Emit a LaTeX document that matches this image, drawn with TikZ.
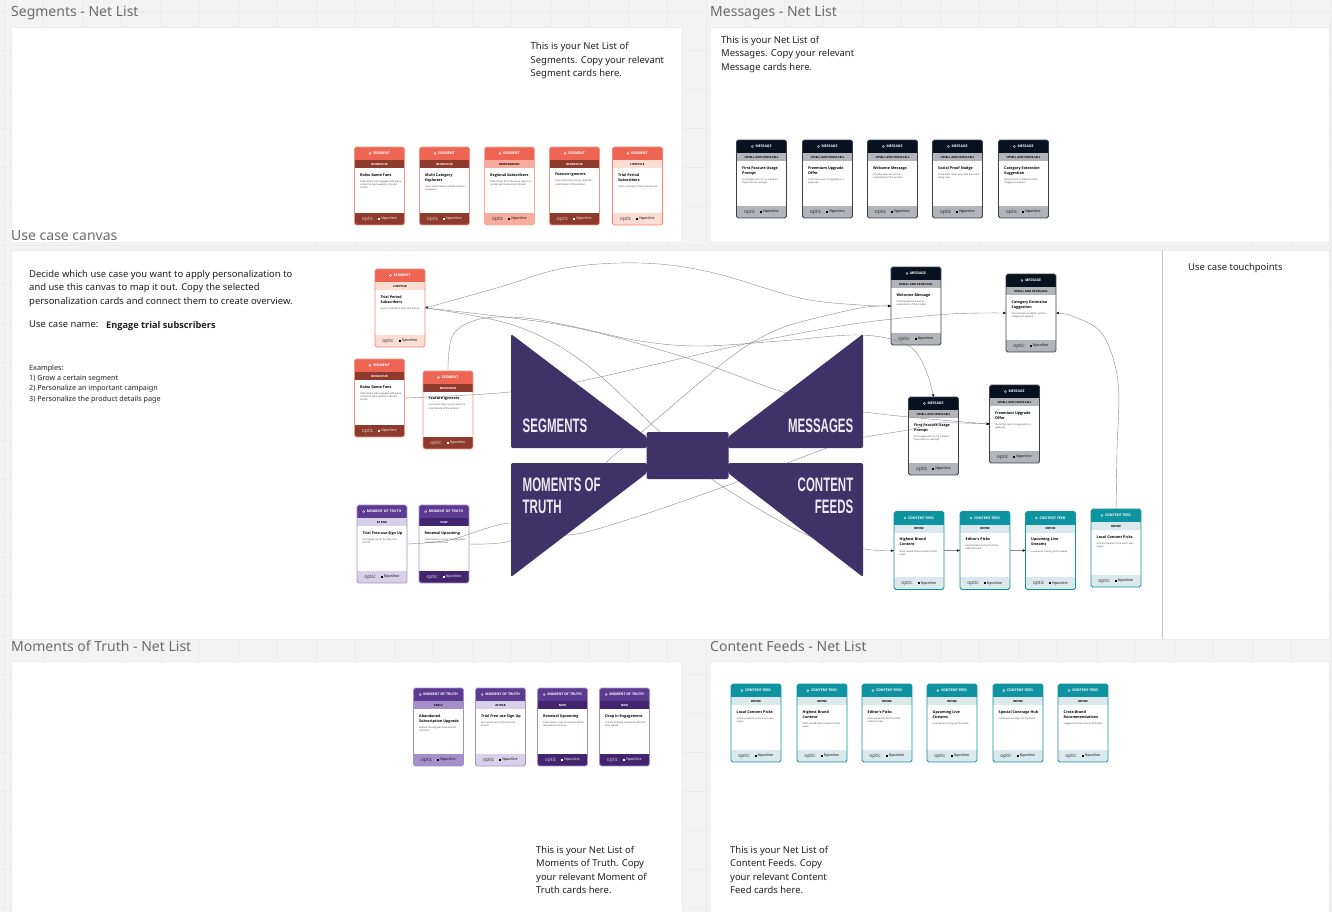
\documentclass[tikz,border=0pt]{standalone}
\usepackage{fontspec}
\setmainfont{Open Sans}
\newfontfamily\notefont{Noto Sans}
\newfontfamily\bowfont{Liberation Sans}
\usetikzlibrary{arrows.meta,calc}
\definecolor{pagebg}{HTML}{F3F3F3}
\definecolor{gridc}{HTML}{ECECEC}
\definecolor{bowc}{HTML}{3F3268}
\definecolor{wirec}{HTML}{8A8A8A}
\definecolor{headc}{HTML}{6B6B6B}
\definecolor{bodyc}{HTML}{1F1F1F}
% palettes
\definecolor{segH}{HTML}{EE6554}\definecolor{segD}{HTML}{8E3B2E}\definecolor{segM}{HTML}{F7AD9D}\definecolor{segL}{HTML}{FCDDD2}
\definecolor{msgH}{HTML}{071120}\definecolor{msgS}{HTML}{B2B4BA}\definecolor{msgB}{HTML}{3A3F4A}
\definecolor{motH}{HTML}{5C3A92}\definecolor{motD}{HTML}{43256F}\definecolor{motM}{HTML}{A48FC8}\definecolor{motL}{HTML}{D8D0E8}
\definecolor{feedH}{HTML}{0E93A0}\definecolor{feedS}{HTML}{DCE9EC}
\def\setpal#1#2#3#4#5#6#7{\def\cHd{#1}\def\cBd{#2}\def\cSub{#3}\def\cSubT{#4}\def\cFootT{#5}\def\cLab{#6}\def\cSubL{#7}}
\def\segDk{\setpal{segH}{segH!70}{segD}{white}{white}{SEGMENT}{BEHAVIOUR}}
\def\segMd{\setpal{segH}{segM}{segM}{black}{black}{SEGMENT}{DEMOGRAPHIC}}
\def\segLt{\setpal{segH}{segH!80}{segL}{black}{black}{SEGMENT}{LIFECYCLE}}
\def\msgAll{\setpal{msgH}{msgB}{msgS}{black}{black}{MESSAGE}{UPSELL AND CROSS-SELL}}
\def\motDk{\setpal{motH}{motM}{motD}{white}{white}{MOMENT OF TRUTH}{NOW}}
\def\motMd{\setpal{motH}{motM}{motM}{black}{black}{MOMENT OF TRUTH}{EARLY}}
\def\motLt{\setpal{motH}{motM}{motL}{black}{black}{MOMENT OF TRUTH}{AT RISK}}
\def\feedAll{\setpal{feedH}{feedH}{feedS}{black}{black}{CONTENT FEED}{DEFINE}}
\tikzset{
  panel/.style={fill=white,draw=gridc,line width=.5pt},
  paneltitle/.style={anchor=west,inner sep=0,text=headc,font=\notefont\fontsize{14}{16}\selectfont},
  note/.style={anchor=north west,inner sep=0,align=left,text=bodyc,font=\notefont\fontsize{9.45}{13.4}\selectfont},
  smallnote/.style={anchor=north west,inner sep=0,align=left,text=bodyc,font=\notefont\fontsize{7.2}{10.3}\selectfont},
  cardbox/.style={minimum width=50pt,minimum height=78pt,inner sep=0,rounded corners=1.8pt},
  wire/.style={draw=wirec,line width=.4pt},
  tip/.style={-{Stealth[length=3pt,width=2.6pt,black]}},
  bow/.style={fill=bowc,rounded corners=2pt},
  bowlabel/.style={inner sep=0,text=white!90!bowc,font=\bowfont\bfseries\fontsize{19.5}{22}\selectfont},
}
\newcommand{\bowtxt}[1]{\scalebox{.59}[1]{#1}}
% \card{palette}{name}{x}{y}{title}{body}
\newcommand{\card}[6]{%
\begin{scope}
\csname #1\endcsname
\node[cardbox,fill=white] (#2) at (#3+25,#4+39) {};
\begin{scope}
\clip[rounded corners=1.8pt] (#3,#4) rectangle ++(50,78);
\fill[\cHd] (#3,#4) rectangle ++(50,13);
\fill[\cSub] (#3,#4+13) rectangle ++(50,8.2);
\fill[\cSub] (#3,#4+65.6) rectangle ++(50,12.4);
\end{scope}
\draw[\cBd,line width=.8pt,rounded corners=1.8pt] (#3,#4) rectangle ++(50,78);
\node[inner sep=0,text=white,font=\bfseries\fontsize{3.5}{4}\selectfont] (#2-lab) at (#3+27,#4+6.5) {\cLab};
\draw[white,line width=.3pt] ($(#2-lab.west)+(-3,0)$) circle (1.1pt);
\node[inner sep=0,text=\cSubT,font=\bfseries\fontsize{2.8}{3}\selectfont] (#2-sub) at (#3+25,#4+17.1) {\cSubL};
\node[anchor=north west,inner sep=0,text width=41pt,text=black] (#2-txt) at (#3+5.5,#4+26)
  {\raggedright{\bfseries\fontsize{3.7}{5.4}\selectfont\spaceskip=.26em\relax #5\par}\vspace{3pt}{\color{black!75}\fontsize{2.4}{3.1}\selectfont\spaceskip=.26em\relax #6\par}};
\node[inner sep=0,text=\cFootT!75!\cSub,font=\fontsize{5}{5}\selectfont] (#2-logo) at (#3+13,#4+71.8) {optic};
\node[inner sep=0,text=\cFootT,font=\fontsize{3.6}{4}\selectfont] (#2-brand) at (#3+33,#4+71.8) {\rule{2pt}{2pt} Nponline};
\end{scope}}
\begin{document}
\begin{tikzpicture}[x=1pt,y=-1pt]
\useasboundingbox (0,0) rectangle (1332,912);
\fill[pagebg] (0,0) rectangle (1332,912);
\foreach \gx in {4,43,...,1332} \draw[gridc,line width=.5pt] (\gx,0) -- (\gx,912);
\foreach \gy in {11,50,...,912} \draw[gridc,line width=.5pt] (0,\gy) -- (1332,\gy);
% panels
\draw[panel] (11,27) rectangle (682,242);
\draw[panel] (710,27) rectangle (1329,242);
\draw[panel] (11,250) rectangle (1329,639);
\draw[gridc!85!black,line width=.5pt] (1162.5,250) -- (1162.5,639);
\draw[panel] (11,661) rectangle (682,914);
\draw[panel] (710,661) rectangle (1329,914);
% titles
\node[paneltitle] (t1) at (11,13) {Segments - Net List};
\node[paneltitle] (t2) at (710,13) {Messages - Net List};
\node[paneltitle] (t3) at (11,236) {Use case canvas};
\node[paneltitle] (t4) at (11,646.5) {Moments of Truth - Net List};
\node[paneltitle] (t5) at (710,646.5) {Content Feeds - Net List};
% notes
\node[note] (n1) at (530.5,42.5) {This is your Net List of\\Segments. Copy your relevant\\Segment cards here.};
\node[note] (n2) at (721,36) {This is your Net List of\\Messages. Copy your relevant\\Message cards here.};
\node[note] (n3) at (29,270) {Decide which use case you want to apply personalization to\\and use this canvas to map it out. Copy the selected\\personalization cards and connect them to create overview.};
\node[note] (n4) at (29,321) {Use case name:};
\node[note,font=\bfseries\fontsize{9.2}{13.4}\selectfont] (n5) at (106,321) {Engage trial subscribers};
\node[smallnote] (n6) at (29,364.5) {Examples:\\1) Grow a certain segment\\2) Personalize an important campaign\\3) Personalize the product details page};
\node[note] (n7) at (1188,263.5) {Use case touchpoints};
\node[note] (n8) at (536,846) {This is your Net List of\\Moments of Truth. Copy\\your relevant Moment of\\Truth cards here.};
\node[note] (n9) at (730,846) {This is your Net List of\\Content Feeds. Copy\\your relevant Content\\Feed cards here.};
% net list: segments
\card{segDk}{sa}{354.5}{147}{Rolex Game Fans}{Subscribers who engaged with game content at least weekly in the last month}
\card{segDk}{sb}{419.5}{147}{Multi Category Explorers}{Users who browse multiple content categories}
\card{segMd}{sc}{484.5}{147}{Regional Subscribers}{Subscribers from the same region or market who share local interests}
\card{segDk}{sd}{549.5}{147}{Feature Ignorers}{Users who have not yet used the core feature of the product}
\card{segLt}{se}{612.5}{147}{Trial Period Subscribers}{Users currently in their trial period}
% net list: messages
\foreach \nm/\xx/\ti/\bd in {ma/736.5/First Feature Usage Prompt/Encourage users to try a feature they have not used yet,
  mb/802.5/Freemium Upgrade Offer/Invite free users to upgrade to a paid plan,
  mc/867.5/Welcome Message/Friendly welcome and an explanation of the product,
  md/932.5/Social Proof Nudge/Show what other users like them are doing now,
  me/998.5/Category Extension Suggestion/Recommend a related content category to explore}
  {\card{msgAll}{\nm}{\xx}{140}{\ti}{\bd}}
% net list: moments of truth
\card{motMd}{ta}{413.5}{688}{Abandoned Subscription Upgrade}{Started the upgrade flow and did not finish}
\card{motLt}{tb}{475.5}{688}{Trial Free-use Sign Up}{Just signed up for the free trial period}
\card{motDk}{tc}{537.5}{688}{Renewal Upcoming}{Subscription is up for renewal within two weeks from now}
\card{motDk}{td}{599.5}{688}{Drop in Engagement}{Activity dropped compared with the prior weeks}
% net list: feeds
\foreach \nm/\xx/\ti/\bd in {fa/731/Local Content Picks/Articles popular in the user's own region,
  fb/797/Highest Brand Content/Most valued brand content of the week,
  fc/862/Editor's Picks/Hand-picked stories from the editorial team,
  fd/927/Upcoming Live Streams/Live events coming up this week,
  fe/993/Special Coverage Hub/Collected coverage of a big event,
  ff/1058/Cross-Brand Recommendations/Suggestions from across all brands}
  {\card{feedAll}{\nm}{\xx}{684}{\ti}{\bd}}
% canvas cards
\card{segLt}{trial}{375}{269}{Trial Period Subscribers}{Users currently in their trial period}
\card{segDk}{rolex}{354.5}{359}{Rolex Game Fans}{Subscribers who engaged with game content at least weekly in the last month}
\card{segDk}{feat}{423}{371}{Feature Ignorers}{Users who have not yet used the core feature of the product}
\card{msgAll}{welcome}{891}{267}{Welcome Message}{Friendly welcome and an explanation of the product}
\card{msgAll}{categ}{1006}{274}{Category Extension Suggestion}{Recommend a related content category to explore}
\card{msgAll}{first}{908.5}{397}{First Feature Usage Prompt}{Encourage users to try a feature they have not used yet}
\card{msgAll}{freem}{989.5}{385}{Freemium Upgrade Offer}{Invite free users to upgrade to a paid plan}
\card{motLt}{tfree}{357}{505}{Trial Free-use Sign Up}{Just signed up for the free trial period}
\card{motDk}{renew}{419}{505}{Renewal Upcoming}{Subscription is up for renewal within two weeks from now}
\card{feedAll}{high}{894}{511.5}{Highest Brand Content}{Most valued brand content of the week}
\card{feedAll}{edit}{960}{511.5}{Editor's Picks}{Hand-picked stories from the editorial team}
\card{feedAll}{upc}{1025.5}{511.5}{Upcoming Live Streams}{Live events coming up this week}
\card{feedAll}{local}{1091}{509}{Local Content Picks}{Articles popular in the user's own region}
% connectors
\draw[wire,{Stealth[length=3pt,width=2.6pt,black]}-{Stealth[length=3pt,width=2.6pt,black]}] plot[smooth,tension=.6] coordinates {(trial.east) (500,287) (565,268) (640,263) (710,272) (800,298) (860,305) (welcome.west)};
\draw[wire,tip] plot[smooth,tension=.55] coordinates {(trial.east) (567,326) (687,358) (783,392) (865,412) (freem.west)};
\draw[wire,tip] plot[smooth,tension=.6] coordinates {(trial.east) (513,325) (583,362) (660,432) (713,480) (807,535) (865,549) (high.west)};
\draw[wire,tip] plot[smooth,tension=.6] coordinates {(feat.north) (453,335) (480,319) (525,318) (575,327) (640,341) (700,346) (780,341) (860,335) (907,345) (925,368) (first.north)};
\draw[wire,tip] plot[smooth,tension=.5] coordinates {(rolex.east) (450,396) (510,392) (577,382) (750,343) (860,323) (950,314) (categ.west)};
\draw[wire,tip] plot[smooth,tension=.5] coordinates {(tfree.east) (450,540) (510,523) (567,535) (633,518) (737,482) (827,448) (860,438) (908,430) (940,423) (freem.west)};
\draw[wire,tip] plot[smooth,tension=.5] coordinates {(renew.east) (510,541) (560,515) (607,462) (623,448) (717,368) (753,342) (790,325) (860,308) (welcome.west)};
\draw[wire,tip] (high.east) -- (edit.west);
\draw[wire,tip] (edit.east) -- (upc.west);
\draw[wire,tip] plot[smooth,tension=.6] coordinates {(local.north) (1117,450) (1118,382) (1103,335) (1075,317) (categ.east)};
% bow tie
\fill[bow] (511,334) -- (647,437) -- (647,448) -- (511,448) -- cycle;
\fill[bow] (863,334) -- (728,437) -- (728,448) -- (863,448) -- cycle;
\fill[bow] (511,463) -- (647,463) -- (647,473) -- (511,577) -- cycle;
\fill[bow] (863,463) -- (728,463) -- (728,473) -- (863,577) -- cycle;
\fill[bowc,rounded corners=2pt] (646.5,432) rectangle (728.5,479);
\node[bowlabel,anchor=west] (b1) at (522.5,425.5) {\bowtxt{SEGMENTS}};
\node[bowlabel,anchor=east] (b2) at (853.5,425.5) {\bowtxt{MESSAGES}};
\node[bowlabel,anchor=west] (b3) at (522.5,484.5) {\bowtxt{MOMENTS OF}};
\node[bowlabel,anchor=west] (b4) at (522.5,506.5) {\bowtxt{TRUTH}};
\node[bowlabel,anchor=east] (b5) at (853.5,484.5) {\bowtxt{CONTENT}};
\node[bowlabel,anchor=east] (b6) at (853.5,506.5) {\bowtxt{FEEDS}};
\end{tikzpicture}
\end{document}
